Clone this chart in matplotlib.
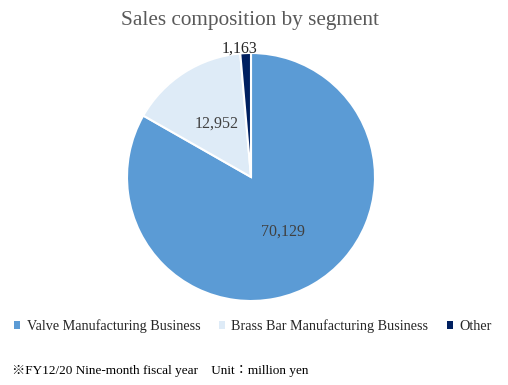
import matplotlib
matplotlib.use("Agg")
import matplotlib.pyplot as plt
import numpy as np

categories = ["Valve Manufacturing Business", "Brass Bar Manufacturing Business", "Other"]
values = [70129, 12952, 1163]
value_labels = ["70,129", "12,952", "1,163"]
colors = ["#5B9BD5", "#DEEBF7", "#002060"]

serif = ["Liberation Serif", "Noto Sans CJK JP", "DejaVu Serif"]

fig = plt.figure(figsize=(5.08, 3.85), dpi=100)
fig.patch.set_facecolor("white")

W, H = 508, 385
cx, cy, r = 251, 177, 124
ax = fig.add_axes([(cx - r) / W, (H - cy - r) / H, 2 * r / W, 2 * r / H])
wedges, _ = ax.pie(values, colors=colors, startangle=90, counterclock=False,
                   radius=1.0, wedgeprops=dict(edgecolor="white", linewidth=1.5))
ax.set_xlim(-1, 1)
ax.set_ylim(-1, 1)
ax.set_aspect("equal")
ax.axis("off")

# label placement (angle in degrees, radius) per slice
label_pos = [(-60, 0.51), (123, 0.51), (95, 1.04)]
label_colors = ["#404040", "#404040", "#262626"]
for (ang, rad), txt, c in zip(label_pos, value_labels, label_colors):
    a = np.deg2rad(ang)
    ax.text(rad * np.cos(a), rad * np.sin(a), txt, ha="center", va="center",
            fontsize=11.5, family=serif, color=c, clip_on=False)

fig.text(250 / W, 1 - 20 / H, "Sales composition by segment", ha="center", va="center",
         fontsize=15.3, family=serif, color="#595959")

handles = [plt.Rectangle((0, 0), 1, 1, facecolor=c, edgecolor="none") for c in colors]
leg = fig.legend(handles, categories, loc="center", bbox_to_anchor=(253 / W, 1 - 326 / H),
                 ncol=3, frameon=False, prop=dict(family=serif, size=10.2),
                 handlelength=0.45, handleheight=0.45, handletextpad=0.45, columnspacing=1.3)
for t in leg.get_texts():
    t.set_color("#262626")

fig.text(12 / W, 1 - 371 / H, "※FY12/20 Nine-month fiscal year　Unit：million yen",
         ha="left", va="center", fontsize=9.5, family=serif, color="#000000")

fig.savefig("out.png", dpi=100, facecolor="white")
